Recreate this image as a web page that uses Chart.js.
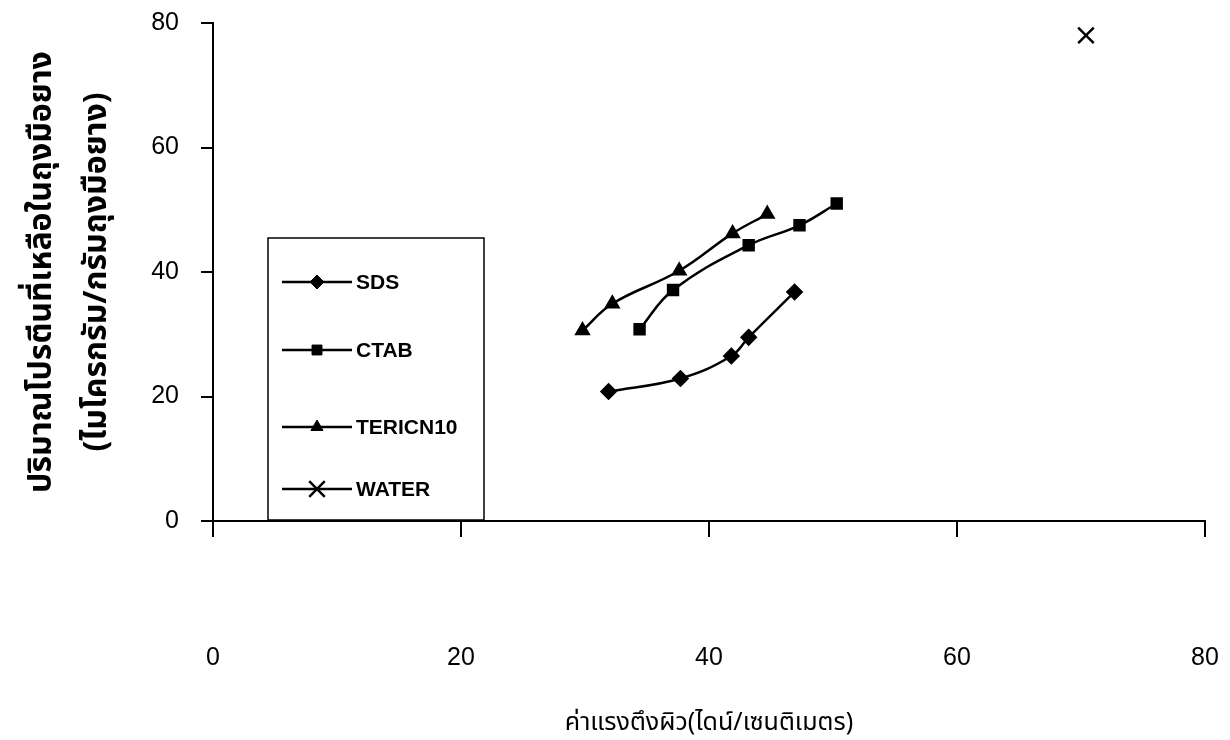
<!DOCTYPE html>
<html>
<head>
<meta charset="utf-8">
<script src="https://cdn.jsdelivr.net/npm/chart.js@4.4.1/dist/chart.umd.min.js"></script>
<style>
  html, body { margin: 0; padding: 0; background: #ffffff; }
  #wrap { width: 1230px; height: 740px; position: relative; }
</style>
</head>
<body>
<div id="wrap"><canvas id="c" width="1230" height="740"></canvas></div>
<script>
// ---- data ----
const seriesNames = ['SDS', 'CTAB', 'TERIC N10', 'WATER'];
const sdsX   = [31.9, 37.7, 41.8, 43.2, 46.9];
const sdsY   = [20.8, 22.9, 26.5, 29.5, 36.8];
const ctabX  = [34.4, 37.1, 43.2, 47.3, 50.3];
const ctabY  = [30.8, 37.1, 44.3, 47.5, 51.0];
const tericX = [29.8, 32.2, 37.6, 41.9, 44.7];
const tericY = [30.6, 34.9, 40.2, 46.2, 49.3];
const waterX = [70.4];
const waterY = [78.0];
const xTicks = [0, 20, 40, 60, 80];
const yTicks = [0, 20, 40, 60, 80];
const yTitle = ['ปริมาณโปรตีนที่เหลือในถุงมือยาง', '(ไมโครกรัม/กรัมถุงมือยาง)'];
const xTitle = 'ค่าแรงตึงผิว(ไดน์/เซนติเมตร)';

function pts(xs, ys) { return xs.map((x, i) => ({ x: x, y: ys[i] })); }

const tickFont = { family: "'Liberation Sans Narrow', 'Liberation Sans', Arial, sans-serif", size: 25, weight: 'normal', lineHeight: 1.2 };
const thaiFont = "'Noto Sans Thai', 'Noto Sans', 'DejaVu Sans', sans-serif";

const legendPlugin = {
  id: 'boxLegend',
  afterDraw(chart) {
    const ctx = chart.ctx;
    ctx.save();
    const bx = 268, by = 238, bw = 216, bh = 282;
    ctx.fillStyle = '#fff';
    ctx.fillRect(bx, by, bw, bh);
    ctx.strokeStyle = '#000';
    ctx.lineWidth = 1.5;
    ctx.strokeRect(bx, by, bw, bh);
    const rows = [282, 350, 427, 489];
    chart.data.datasets.forEach((ds, i) => {
      const y = rows[i];
      ctx.strokeStyle = '#000';
      ctx.fillStyle = '#000';
      ctx.lineWidth = 2.5;
      ctx.beginPath();
      ctx.moveTo(282, y);
      ctx.lineTo(352, y);
      ctx.stroke();
      ctx.lineWidth = ds.pointBorderWidth || 1;
      Chart.helpers.drawPoint(ctx, {
        pointStyle: ds.pointStyle,
        radius: ds.pointRadius,
        rotation: 0,
        borderWidth: ds.pointBorderWidth || 1
      }, 317, y);
      ctx.fillStyle = '#000';
      ctx.font = "bold 21px 'Liberation Sans Narrow', 'Liberation Sans', Arial, sans-serif";
      ctx.textBaseline = 'middle';
      ctx.textAlign = 'left';
      ctx.fillText(ds.label.replace(' ', ''), 356, y + 1);
    });
    ctx.restore();
  }
};

const common = {
  showLine: true,
  borderColor: '#000',
  backgroundColor: '#000',
  pointBackgroundColor: '#000',
  pointBorderColor: '#000',
  borderWidth: 2.5,
  tension: 0.4
};

new Chart(document.getElementById('c'), {
  type: 'scatter',
  data: {
    datasets: [
      Object.assign({}, common, { label: seriesNames[0], data: pts(sdsX, sdsY), pointStyle: 'rectRot', pointRadius: 7 }),
      Object.assign({}, common, { label: seriesNames[1], data: pts(ctabX, ctabY), pointStyle: 'rect', pointRadius: 7 }),
      Object.assign({}, common, { label: seriesNames[2], data: pts(tericX, tericY), pointStyle: 'triangle', pointRadius: 7 }),
      Object.assign({}, common, { label: seriesNames[3], data: pts(waterX, waterY), pointStyle: 'crossRot', pointRadius: 11, pointBorderWidth: 2.5 })
    ]
  },
  options: {
    responsive: false,
    animation: false,
    layout: { padding: { top: 23, right: 25, left: 0, bottom: 0 } },
    plugins: { legend: { display: false }, tooltip: { enabled: false } },
    scales: {
      x: {
        type: 'linear',
        min: 0, max: 80,
        afterBuildTicks(scale) { scale.ticks = xTicks.map(v => ({ value: v })); },
        afterFit(scale) { scale.height = 219; scale.paddingLeft = 0; scale.paddingRight = 0; },
        border: { display: true, color: '#000', width: 2 },
        grid: { drawOnChartArea: false, drawTicks: true, tickLength: 16, color: '#000', lineWidth: 2 },
        ticks: { color: '#000', font: tickFont, padding: 16, maxRotation: 0,
                 callback: (v) => ['', '', '', String(v)] },
        title: { display: true, text: xTitle, color: '#000', font: { family: thaiFont, size: 25, weight: 'normal' }, padding: { top: 0, bottom: 0 } }
      },
      y: {
        type: 'linear',
        min: 0, max: 80,
        afterBuildTicks(scale) { scale.ticks = yTicks.map(v => ({ value: v })); },
        afterFit(scale) { scale.width = 213; scale.paddingTop = 0; scale.paddingBottom = 0; },
        border: { display: true, color: '#000', width: 2 },
        grid: { drawOnChartArea: false, drawTicks: true, tickLength: 12, color: '#000', lineWidth: 2 },
        ticks: { color: '#000', font: tickFont, padding: 22 },
        title: { display: true, text: yTitle, color: '#000', font: { family: thaiFont, size: 32, weight: 'bold', lineHeight: 1.72 }, padding: { top: 17, bottom: 0 } }
      }
    }
  },
  plugins: [legendPlugin]
});
</script>
</body>
</html>
